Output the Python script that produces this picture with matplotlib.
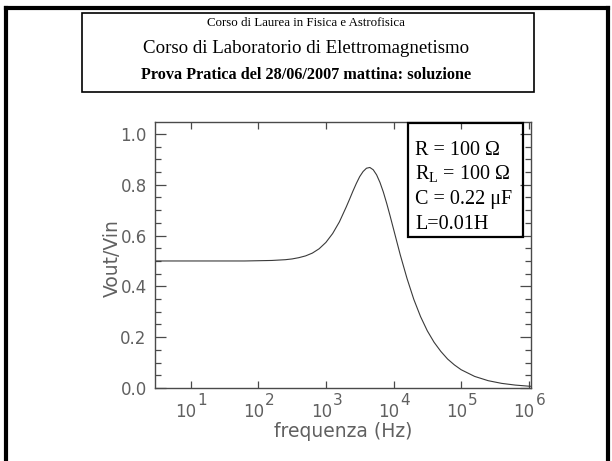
import matplotlib
matplotlib.use("Agg")
import matplotlib.pyplot as plt
from matplotlib.patches import Rectangle
from matplotlib.lines import Line2D
from matplotlib.ticker import FixedLocator, MultipleLocator, NullFormatter

# frequency (Hz) and |Vout/Vin|
freq = [3, 10, 31.6, 63.1, 100, 158.5, 251.2, 316.2, 398.1, 501.2, 631.0, 794.3,
        1000, 1259, 1585, 1995, 2239, 2512, 2818, 3162, 3548, 3981, 4467, 5012,
        5623, 6310, 7079, 7943, 8913, 10000, 12589, 15849, 19953, 25119, 31623,
        39811, 50119, 63096, 79433, 1e5, 158489, 251189, 398107, 630957, 1e6, 1.07e6]
gain = [0.500, 0.500, 0.500, 0.500, 0.501, 0.502, 0.505, 0.508, 0.513, 0.520, 0.531, 0.548,
        0.573, 0.608, 0.654, 0.712, 0.743, 0.775, 0.805, 0.832, 0.852, 0.865, 0.868, 0.859,
        0.839, 0.809, 0.771, 0.726, 0.677, 0.626, 0.524, 0.431, 0.349, 0.281, 0.225,
        0.180, 0.144, 0.114, 0.091, 0.072, 0.0456, 0.0288, 0.0182, 0.0115, 0.0072, 0.0068]

xticks = [1e1, 1e2, 1e3, 1e4, 1e5, 1e6]
xexponents = ['1', '2', '3', '4', '5', '6']
yticks = [0.0, 0.2, 0.4, 0.6, 0.8, 1.0]

title_lines = ["Corso di Laurea in Fisica e Astrofisica",
               "Corso di Laboratorio di Elettromagnetismo",
               "Prova Pratica del 28/06/2007 mattina: soluzione"]
legend_lines = [r"R = 100 Ω", r"R$_{\mathregular{L}}$ = 100 Ω", r"C = 0.22 μF", r"L=0.01H"]

W, H = 612, 461
fig = plt.figure(figsize=(W / 100, H / 100), dpi=100)
fig.patch.set_facecolor('white')


def fx(px):
    return px / W


def fy(py):
    return 1 - py / H


# slide frame
frame = dict(color='black', lw=3, solid_capstyle='projecting', transform=fig.transFigure)
fig.add_artist(Line2D([fx(6), fx(6)], [fy(8), fy(470)], **frame))
fig.add_artist(Line2D([fx(6), fx(608)], [fy(8), fy(8)], **frame))
fig.add_artist(Line2D([fx(608), fx(608)], [fy(8), fy(470)], **frame))

# title box
fig.add_artist(Rectangle((fx(82), fy(92)), fx(534) - fx(82), fy(13) - fy(92),
                         transform=fig.transFigure, fill=False, ec='black', lw=1.2))
serif = 'Liberation Serif'
fig.text(0.5, fy(23), title_lines[0], ha='center', va='center', family=serif, fontsize=9.3)
fig.text(0.5, fy(48.5), title_lines[1], ha='center', va='center', family=serif, fontsize=13.6)
fig.text(0.5, fy(75), title_lines[2], ha='center', va='center', family=serif, fontsize=11.7,
         weight='bold')

# plot
ax = fig.add_axes([fx(155), fy(388), fx(531) - fx(155), fy(122) - fy(388)])
grey = '#4a4a4a'
lab = '#606060'
ax.plot(freq, gain, color='#3a3a3a', lw=0.8)
ax.set_xscale('log')
ax.set_xlim(2.97, 1.08e6)
ax.set_ylim(0, 1.047)

ax.xaxis.set_major_locator(FixedLocator(xticks))
ax.xaxis.set_major_formatter(NullFormatter())
ax.xaxis.set_minor_locator(FixedLocator([]))
ax.yaxis.set_major_locator(FixedLocator(yticks))
ax.yaxis.set_minor_locator(MultipleLocator(0.05))
ax.set_yticklabels(['%.1f' % v for v in yticks])

for s in ax.spines.values():
    s.set_color(grey)
    s.set_linewidth(1.0)
ax.tick_params(axis='both', which='both', direction='in', color=grey, width=0.9,
               top=True, right=True, labelcolor=lab, labelsize=12)
ax.tick_params(axis='x', which='major', length=5)
ax.tick_params(axis='y', which='major', length=8, pad=6)
ax.tick_params(axis='y', which='minor', length=4)

# x tick labels as 10 with a large exponent
for t, e in zip(xticks, xexponents):
    ax.annotate('10', xy=(t, 0), xycoords=('data', 'axes fraction'), xytext=(6, -29),
                textcoords='offset pixels', ha='right', va='baseline', color=lab, fontsize=12)
    ax.annotate(e, xy=(t, 0), xycoords=('data', 'axes fraction'), xytext=(7, -17),
                textcoords='offset pixels', ha='left', va='baseline', color=lab, fontsize=11)

fig.text(fx(343), fy(431), 'frequenza (Hz)', ha='center', va='center', color=lab, fontsize=13.5)
fig.text(fx(112), fy(258), 'Vout/Vin', ha='center', va='center', rotation=90, color=lab,
         fontsize=13.5)

# parameter box
fig.add_artist(Rectangle((fx(408), fy(237)), fx(523) - fx(408), fy(123) - fy(237),
                         transform=fig.transFigure, fill=False, ec='black', lw=1.6))
for i, line in enumerate(legend_lines):
    fig.text(fx(415), fy(155 + 24.5 * i), line, ha='left', va='baseline',
             family=serif, fontsize=14.5)

fig.savefig('out.png', dpi=100, facecolor='white')
